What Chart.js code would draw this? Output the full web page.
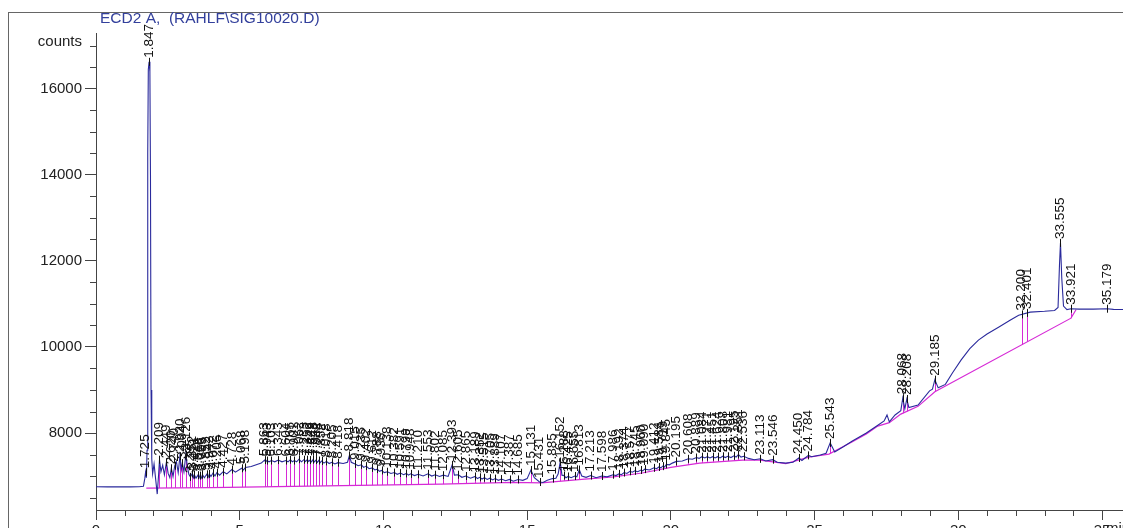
<!DOCTYPE html>
<html>
<head>
<meta charset="utf-8">
<script src="https://cdn.jsdelivr.net/npm/chart.js@4.4.1/dist/chart.umd.min.js"></script>
<style>
  html, body { margin: 0; padding: 0; background: #fff; }
  #wrap { width: 1123px; height: 528px; position: relative; overflow: hidden; }
</style>
</head>
<body>
<div id="wrap"><canvas id="chrom" width="1123" height="528"></canvas></div>
<script>
// detector signal (retention time in min, counts)
const signalTimes = [
  0.00, 0.40, 0.80, 1.20, 1.50, 1.65, 1.70, 1.725, 1.755, 1.775, 1.80, 1.82, 1.847, 1.875, 1.895, 1.915, 1.94, 1.97,
  2.02, 2.08, 2.13, 2.18, 2.209, 2.26, 2.32, 2.38, 2.449, 2.51, 2.57, 2.62, 2.68, 2.74, 2.80, 2.86,
  2.92, 2.97, 3.004, 3.06, 3.126, 3.18, 3.23, 3.285, 3.352, 3.39, 3.421, 3.48, 3.548, 3.58, 3.616, 3.66,
  3.705, 3.77, 3.852, 3.90, 3.942, 4.00, 4.072, 4.14, 4.206, 4.30, 4.427, 4.55, 4.728, 4.85, 5.068, 5.13,
  5.198, 5.40, 5.60, 5.75, 5.863, 5.90, 5.943, 6.02, 6.103, 6.22, 6.343, 6.47, 6.604, 6.68, 6.765, 6.83,
  6.901, 6.98, 7.062, 7.15, 7.233, 7.29, 7.352, 7.40, 7.449, 7.50, 7.548, 7.60, 7.652, 7.70, 7.748, 7.80,
  7.852, 7.93, 8.018, 8.11, 8.205, 8.31, 8.418, 8.60, 8.75, 8.818, 8.88, 9.015, 9.12, 9.235, 9.31, 9.402,
  9.50, 9.612, 9.70, 9.788, 9.86, 9.936, 10.03, 10.138, 10.26, 10.382, 10.48, 10.591, 10.70, 10.799, 10.87, 10.948,
  11.08, 11.210, 11.38, 11.553, 11.68, 11.802, 11.95, 12.085, 12.25, 12.393, 12.47, 12.605, 12.73, 12.865, 13.03, 13.189,
  13.27, 13.352, 13.43, 13.515, 13.61, 13.705, 13.80, 13.889, 14.00, 14.107, 14.25, 14.387, 14.52, 14.685, 14.85, 15.00,
  15.131, 15.25, 15.431, 15.55, 15.70, 15.885, 16.00, 16.08, 16.152, 16.21, 16.288, 16.35, 16.425, 16.53, 16.655, 16.73,
  16.813, 16.90, 17.05, 17.213, 17.40, 17.598, 17.78, 17.986, 18.09, 18.192, 18.28, 18.374, 18.47, 18.577, 18.66, 18.745,
  18.85, 18.960, 19.02, 19.090, 19.25, 19.412, 19.50, 19.584, 19.65, 19.719, 19.78, 19.845, 19.95, 20.05, 20.195, 20.40,
  20.608, 20.75, 20.889, 20.98, 21.084, 21.18, 21.271, 21.36, 21.451, 21.54, 21.624, 21.71, 21.808, 21.89, 21.981, 22.09,
  22.195, 22.27, 22.351, 22.44, 22.536, 22.70, 22.90, 23.113, 23.30, 23.546, 23.70, 24.00, 24.25, 24.450, 24.56, 24.784,
  24.90, 25.20, 25.40, 25.543, 25.70, 26.00, 26.30, 26.80, 27.20, 27.42, 27.52, 27.60, 27.80, 28.00, 28.068, 28.14,
  28.208, 28.28, 28.60, 29.00, 29.10, 29.185, 29.30, 29.55, 29.80, 30.10, 30.40, 30.70, 31.00, 31.40, 31.80, 32.10,
  32.50, 33.00, 33.35, 33.47, 33.52, 33.555, 33.60, 33.66, 33.78, 33.921, 34.20, 34.70, 35.179, 35.40, 35.73
];
const signalCounts = [
  6752, 6748, 6752, 6748, 6752, 6760, 6950, 7090, 6960, 7600, 14500, 16450, 16630, 16400, 14000, 9000, 7400, 7050,
  7280, 6900, 6580, 7050, 7380, 7100, 7250, 7030, 7320, 7060, 6960, 7180, 6990, 7240, 7330, 7080,
  7460, 7150, 7300, 7100, 7500, 7220, 7040, 6980, 7060, 6960, 7030, 6950, 7020, 6950, 7010, 6950,
  7030, 6960, 7040, 6970, 7050, 6990, 7070, 7000, 7080, 7020, 7100, 7050, 7150, 7090, 7180, 7140,
  7200, 7220, 7270, 7300, 7370, 7320, 7360, 7330, 7360, 7330, 7370, 7330, 7360, 7330, 7380, 7330,
  7360, 7330, 7390, 7330, 7380, 7340, 7380, 7340, 7370, 7330, 7380, 7330, 7370, 7320, 7360, 7310,
  7350, 7300, 7340, 7290, 7320, 7280, 7310, 7290, 7320, 7480, 7320, 7280, 7240, 7260, 7200, 7230,
  7170, 7190, 7140, 7160, 7110, 7130, 7080, 7100, 7060, 7080, 7040, 7070, 7030, 7060, 7020, 7050,
  7010, 7040, 7000, 7050, 7000, 7030, 6990, 7020, 6990, 7260, 7020, 7030, 6970, 7000, 6950, 6990,
  6940, 6970, 6930, 6960, 6920, 6950, 6910, 6940, 6900, 6930, 6890, 6920, 6880, 6920, 6900, 6940,
  7140, 6960, 6860, 6850, 6900, 6940, 6950, 7050, 7330, 7020, 7010, 6960, 6990, 6960, 7000, 6980,
  7150, 7000, 6970, 7010, 6960, 7000, 6980, 7030, 7010, 7050, 7030, 7080, 7060, 7110, 7090, 7120,
  7100, 7140, 7120, 7160, 7140, 7190, 7170, 7210, 7190, 7230, 7210, 7270, 7260, 7300, 7340, 7350,
  7400, 7390, 7430, 7410, 7450, 7420, 7450, 7420, 7450, 7420, 7450, 7420, 7460, 7430, 7460, 7430,
  7470, 7440, 7500, 7440, 7460, 7410, 7380, 7400, 7350, 7380, 7320, 7300, 7320, 7420, 7360, 7480,
  7450, 7490, 7530, 7770, 7560, 7680, 7810, 8000, 8180, 8280, 8420, 8260, 8420, 8520, 8810, 8560,
  8790, 8590, 8650, 8980, 9020, 9240, 9050, 9130, 9400, 9700, 9960, 10160, 10300, 10460, 10620, 10740,
  10810, 10830, 10850, 10920, 11900, 12420, 11600, 10950, 10870, 10890, 10880, 10880, 10890, 10875, 10870
];

// integration baseline
const baselineTimes = [1.75, 4.0, 8.0, 12.0, 14.5, 15.5, 17.0, 18.0, 19.0, 20.0, 21.0, 22.5, 23.1, 24.0,
  24.8, 25.5, 26.3, 26.8, 27.2, 27.6, 28.0, 28.6, 29.185, 33.921, 34.1];
const baselineCounts = [6720, 6730, 6770, 6810, 6850, 6840, 6930, 6980, 7070, 7200, 7300, 7370, 7370, 7290,
  7440, 7510, 7790, 7980, 8160, 8240, 8440, 8620, 8960, 10670, 10870];

// peak retention time labels
const peakLabels = [
  "1.725", "1.847", "2.209", "2.449", "2.620", "2.740", "2.920", "3.004", "3.126", "3.285", "3.352", "3.421",
  "3.548", "3.616", "3.705", "3.852", "3.942", "4.072", "4.206", "4.427", "4.728", "5.068", "5.198", "5.863",
  "5.943", "6.103", "6.343", "6.604", "6.765", "6.901", "7.062", "7.233", "7.352", "7.449", "7.548", "7.652",
  "7.748", "7.852", "8.018", "8.205", "8.418", "8.818", "9.015", "9.235", "9.402", "9.612", "9.788", "9.936",
  "10.138", "10.382", "10.591", "10.799", "10.948", "11.210", "11.553", "11.802", "12.085", "12.393", "12.605",
  "12.865", "13.189", "13.352", "13.515", "13.705", "13.889", "14.107", "14.387", "14.685", "15.131", "15.431",
  "15.885", "16.152", "16.288", "16.425", "16.655", "16.813", "17.213", "17.598", "17.986", "18.192", "18.374",
  "18.577", "18.745", "18.960", "19.090", "19.412", "19.584", "19.719", "19.845", "20.195", "20.608", "20.889",
  "21.084", "21.271", "21.451", "21.624", "21.808", "21.981", "22.195", "22.351", "22.536", "23.113", "23.546",
  "24.450", "24.784", "25.543", "28.068", "28.208", "29.185", "32.200", "32.401", "33.555", "33.921", "35.179"
];

const xTickValues = [];
for (let i = 0; i <= 35; i++) xTickValues.push(i);
const yTickValues = [];
for (let v = 6500; v <= 17000; v += 500) yTickValues.push(v);

const signalColor = "#2a2a9c";
const baseColor = "#d62ad6";
const fontFamily = "'Liberation Sans', Arial, sans-serif";

function signalAt(t) {
  for (let i = 1; i < signalTimes.length; i++) {
    if (signalTimes[i] >= t) {
      const t0 = signalTimes[i - 1], t1 = signalTimes[i];
      const f = (t - t0) / (t1 - t0);
      return signalCounts[i - 1] + f * (signalCounts[i] - signalCounts[i - 1]);
    }
  }
  return signalCounts[signalCounts.length - 1];
}
function baselineAt(t) {
  if (t < baselineTimes[0] || t > baselineTimes[baselineTimes.length - 1]) return null;
  for (let i = 1; i < baselineTimes.length; i++) {
    if (baselineTimes[i] >= t) {
      const t0 = baselineTimes[i - 1], t1 = baselineTimes[i];
      const f = (t - t0) / (t1 - t0);
      return baselineCounts[i - 1] + f * (baselineCounts[i] - baselineCounts[i - 1]);
    }
  }
  return null;
}

const chromPlugin = {
  id: "chrom",
  beforeDatasetsDraw(chart) {
    const ctx = chart.ctx;
    const xs = chart.scales.x, ys = chart.scales.y;
    // drop lines from baseline up to signal (hidden under the big peaks)
    ctx.save();
    ctx.strokeStyle = baseColor;
    ctx.lineWidth = 1;
    peakLabels.forEach(function (lab) {
      const t = parseFloat(lab);
      const b = baselineAt(t);
      if (b === null) return;
      const s = signalAt(t);
      if (s <= b || s - b > 1500) return;
      const x = Math.round(xs.getPixelForValue(t)) + 0.5;
      ctx.beginPath();
      ctx.moveTo(x, ys.getPixelForValue(b));
      ctx.lineTo(x, ys.getPixelForValue(s));
      ctx.stroke();
    });
    ctx.restore();
  },
  afterDatasetsDraw(chart) {
    const ctx = chart.ctx;
    const xs = chart.scales.x, ys = chart.scales.y;
    const area = chart.chartArea;
    ctx.save();
    // peak ticks and rotated labels
    ctx.strokeStyle = "#111";
    ctx.fillStyle = "#111";
    ctx.lineWidth = 1;
    ctx.font = "13.5px " + fontFamily;
    ctx.textAlign = "left";
    ctx.textBaseline = "middle";
    peakLabels.forEach(function (lab) {
      const t = parseFloat(lab);
      const x = xs.getPixelForValue(t);
      const y = ys.getPixelForValue(signalAt(t));
      ctx.beginPath();
      ctx.moveTo(Math.round(x) + 0.5, y - 4);
      ctx.lineTo(Math.round(x) + 0.5, y + 4);
      ctx.stroke();
      ctx.save();
      ctx.translate(x, y - 4);
      ctx.rotate(-Math.PI / 2);
      ctx.fillText(lab, 0, 0);
      ctx.restore();
    });
    ctx.restore();

    // minor axis ticks
    ctx.save();
    ctx.strokeStyle = "#444";
    ctx.lineWidth = 1;
    xTickValues.forEach(function (v) {
      if (v % 5 === 0) return;
      const x = Math.round(xs.getPixelForValue(v)) + 0.5;
      ctx.beginPath();
      ctx.moveTo(x, area.bottom);
      ctx.lineTo(x, area.bottom + 6);
      ctx.stroke();
    });
    yTickValues.forEach(function (v) {
      if (v % 2000 === 0) return;
      const y = Math.round(ys.getPixelForValue(v)) + 0.5;
      ctx.beginPath();
      ctx.moveTo(area.left - 6, y);
      ctx.lineTo(area.left, y);
      ctx.stroke();
    });
    ctx.restore();

    // frame, title, axis captions
    ctx.save();
    ctx.strokeStyle = "#666";
    ctx.lineWidth = 1;
    ctx.strokeRect(8.5, 12.5, 2000, 2000);
    ctx.fillStyle = "#33409c";
    ctx.font = "15.5px " + fontFamily;
    ctx.textAlign = "left";
    ctx.textBaseline = "middle";
    ctx.fillText("ECD2 A,  (RAHLF\\SIG10020.D)", 100, 19);
    ctx.fillStyle = "#222";
    ctx.font = "15px " + fontFamily;
    ctx.textAlign = "right";
    ctx.fillText("counts", 82, 42);
    ctx.textAlign = "left";
    ctx.textBaseline = "top";
    ctx.fillText("min", 1106, 521);
    ctx.restore();
  }
};

const ctx = document.getElementById("chrom").getContext("2d");
Chart.defaults.font.family = fontFamily;

const chart = new Chart(ctx, {
  type: "line",
  data: {
    datasets: [
      {
        label: "ECD2 A",
        data: signalTimes.map((t, i) => ({ x: t, y: signalCounts[i] })),
        borderColor: signalColor,
        borderWidth: 1.1,
        pointRadius: 0,
        tension: 0,
        fill: false,
        order: 1
      },
      {
        label: "baseline",
        data: baselineTimes.map((t, i) => ({ x: t, y: baselineCounts[i] })),
        borderColor: baseColor,
        borderWidth: 1.2,
        pointRadius: 0,
        tension: 0,
        fill: false,
        order: 2
      }
    ]
  },
  options: {
    responsive: false,
    animation: false,
    events: [],
    layout: { padding: { top: 33, right: 0, left: 0, bottom: 0 } },
    plugins: { legend: { display: false }, tooltip: { enabled: false } },
    scales: {
      x: {
        type: "linear",
        min: 0,
        max: 35.73,
        afterBuildTicks: (scale) => { scale.ticks = xTickValues.map(v => ({ value: v })); },
        afterFit: (scale) => { scale.height = 18; },
        border: { color: "#444", width: 1 },
        grid: {
          drawOnChartArea: false,
          tickLength: 10,
          tickColor: (c) => (c.tick && c.tick.value % 5 === 0 ? "#444" : "rgba(0,0,0,0)")
        },
        ticks: {
          autoSkip: false,
          maxRotation: 0,
          padding: 2,
          color: "#222",
          font: { size: 15 },
          callback: (v) => (v % 5 === 0 ? String(v) : "")
        }
      },
      y: {
        type: "linear",
        min: 6210,
        max: 17300,
        afterBuildTicks: (scale) => { scale.ticks = yTickValues.map(v => ({ value: v })); },
        afterFit: (scale) => { scale.width = 96; },
        border: { color: "#444", width: 1 },
        grid: {
          drawOnChartArea: false,
          tickLength: 11,
          tickColor: (c) => (c.tick && c.tick.value % 2000 === 0 ? "#444" : "rgba(0,0,0,0)")
        },
        ticks: {
          autoSkip: false,
          padding: 3,
          color: "#222",
          font: { size: 15 },
          callback: (v) => (v % 2000 === 0 ? String(v) : "")
        }
      }
    }
  },
  plugins: [chromPlugin]
});
</script>
</body>
</html>
